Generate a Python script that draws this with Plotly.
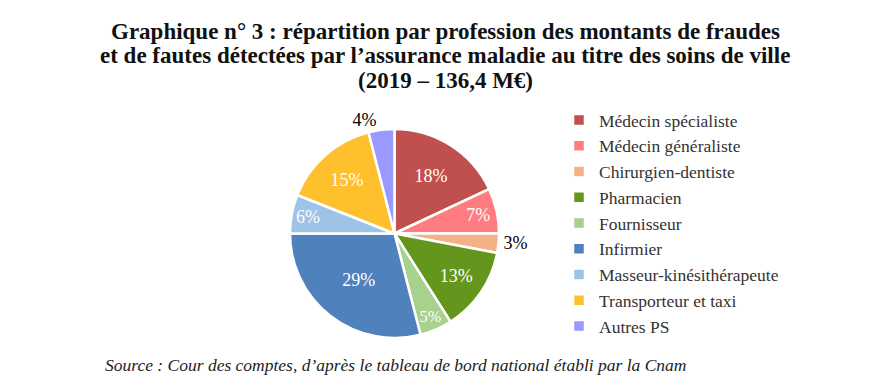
import plotly.graph_objects as go

labels = ["Médecin spécialiste", "Médecin généraliste", "Chirurgien-dentiste", "Pharmacien",
          "Fournisseur", "Infirmier", "Masseur-kinésithérapeute", "Transporteur et taxi", "Autres PS"]
values = [18, 7, 3, 13, 5, 29, 6, 15, 4]
colors = ["#C0504D", "#FF7C80", "#F4B183", "#64961E", "#A9D18E", "#4F81BD", "#9DC3E6", "#FFC02E", "#9999FF"]
text_pos = ["inside", "inside", "outside", "inside", "inside", "inside", "inside", "inside", "outside"]
text_col = ["white", "white", "black", "white", "white", "white", "white", "white", "black"]

title_lines = [
    "Graphique n° 3 : répartition par profession des montants de fraudes",
    "et de fautes détectées par l’assurance maladie au titre des soins de ville",
    "(2019 – 136,4 M€)",
]
source_text = "Source : Cour des comptes, d’après le tableau de bord national établi par la Cnam"

W, H = 875, 391
fig = go.Figure(go.Pie(
    labels=labels, values=values, sort=False, direction="clockwise", rotation=0,
    marker=dict(colors=colors, line=dict(color="white", width=2.5)),
    texttemplate="%{value}%", textposition=text_pos,
    textfont=dict(family="Liberation Serif", size=18, color=text_col),
    insidetextorientation="horizontal",
    domain=dict(x=[282 / W, 491 / W], y=[1 - 330 / H, 1 - 121 / H]),
    hoverinfo="label+percent",
))

annotations = []
for i, (line, yc) in enumerate(zip(title_lines, [23, 47.5, 72])):
    annotations.append(dict(
        text=f"<b>{line}</b>", x=437 / W, y=1 - yc / H, xref="paper", yref="paper",
        xanchor="center", yanchor="middle", showarrow=False,
        font=dict(family="Liberation Serif", size=23, color="#111111"),
    ))
annotations.append(dict(
    text=f"<i>{source_text}</i>",
    x=95 / W, y=1 - 357 / H, xref="paper", yref="paper", xanchor="left", yanchor="middle",
    showarrow=False, font=dict(family="Liberation Serif", size=17.5, color="#222222"),
))

fig.update_layout(
    width=W, height=H,
    margin=dict(l=0, r=0, t=0, b=0),
    paper_bgcolor="white", plot_bgcolor="white",
    legend=dict(
        x=551 / W, y=1 - 94 / H, xanchor="left", yanchor="top",
        font=dict(family="Liberation Serif", size=17.5, color="#333333"),
        itemwidth=30,
    ),
    annotations=annotations,
)

fig.write_html("out.html")
